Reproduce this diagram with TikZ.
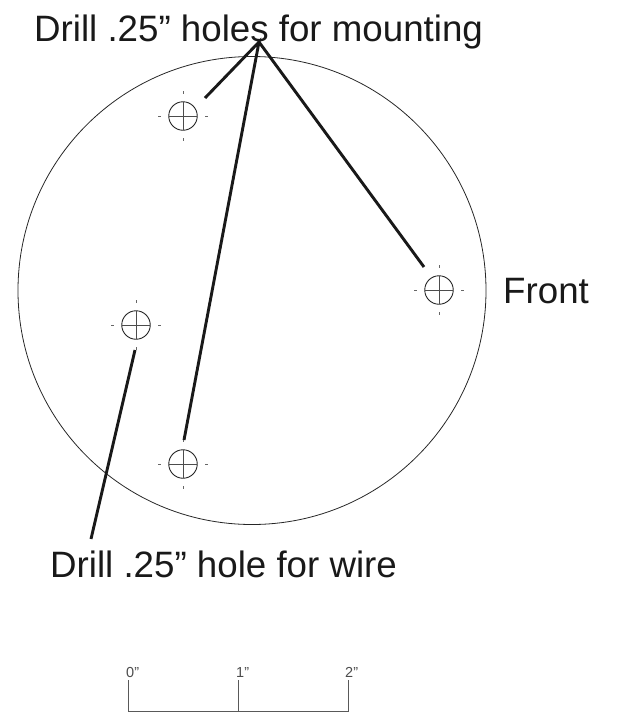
\documentclass[tikz,border=0pt]{standalone}
\usepackage{fontspec}
\setmainfont{Liberation Sans}
\definecolor{cl}{gray}{0.1}
\tikzset{
  lead/.style={line width=2.9pt,draw=cl,line cap=butt},
  lbl/.style={inner sep=0pt,anchor=base west,text=black!90},
  big/.style={lbl,font=\fontsize{36.7}{40}\selectfont},
  small/.style={lbl,font=\fontsize{14.5}{16}\selectfont,text=black!70},
  hole/.style={circle,draw=black!85,line width=0.9pt,minimum size=28.5pt,inner sep=0pt},
  tick/.style={line width=0.7pt,draw=black!60},
  scale line/.style={line width=0.8pt,draw=black!65}
}
\newcommand{\holemark}[3]{%
  \node[hole] (#1) at (#2,#3) {};
  \draw[line width=0.6pt,draw=black!70] (#2-14,#3) -- (#2+14,#3) (#2,#3-14) -- (#2,#3+14);
  \draw[tick] (#2-25,#3) -- (#2-22,#3) (#2+22,#3) -- (#2+25,#3) (#2,#3-25) -- (#2,#3-22) (#2,#3+22) -- (#2,#3+25);
}
\begin{document}
\begin{tikzpicture}[x=1pt,y=-1pt]
\useasboundingbox (0,0) rectangle (617,724);
\node[circle,draw=black!85,line width=0.8pt,minimum size=468pt,inner sep=0pt] (disc) at (252,290.5) {};
\holemark{h1}{183}{116}
\holemark{h2}{439}{290}
\holemark{h3}{136}{325}
\holemark{h4}{183}{464}
\node[big] (title) at (34,41) {Drill .25” holes for mounting};
\node[big] (front) at (503,303) {Front};
\node[big] (wire) at (50,577) {Drill .25” hole for wire};
\coordinate (apex) at (259,42);
\coordinate (e1) at (205,98);
\coordinate (e2) at (184,440);
\coordinate (e3) at (424,267);
\coordinate (w1) at (135,350);
\coordinate (w2) at (91,539);
\draw[lead] (e1) -- (apex) -- (e2);
\draw[lead] (apex) -- (e3);
\draw[lead] (w1) -- (w2);
\coordinate (s0) at (128,711);
\coordinate (s1) at (238,711);
\coordinate (s2) at (348,711);
\draw[scale line] (128,680) -- (s0) -- (s2) -- (348,680);
\draw[scale line] (238,680) -- (s1);
\node[small] (t0) at (126,677) {0”};
\node[small] (t1) at (236,677) {1”};
\node[small] (t2) at (345,677) {2”};
\end{tikzpicture}
\end{document}
